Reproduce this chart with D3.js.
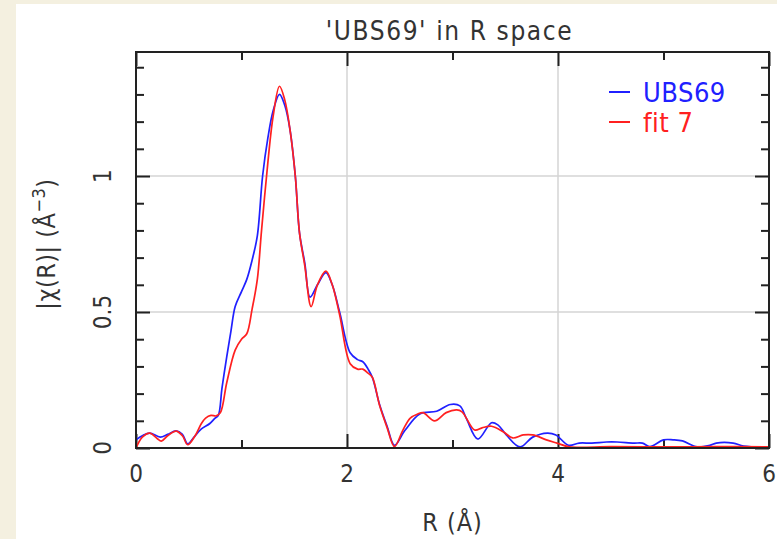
<!DOCTYPE html>
<html><head><meta charset="utf-8">
<script src="https://cdn.jsdelivr.net/npm/d3@7"></script>
<style>
html,body{margin:0;padding:0;background:#f4f0e0;}
svg{display:block;}
text{font-family:"DejaVu Sans Condensed","DejaVu Sans",sans-serif;fill:#333;}
</style></head>
<body>
<svg id="chart" width="777" height="539"></svg>
<script>
const title = "'UBS69' in R space";
const xLabel = "R (Å)";
const seriesNames = ["UBS69", "fit 7"];
const seriesColors = ["#2020ff", "#ff2020"];
const xMajorTicks = [0, 2, 4, 6];
const xMinorTicks = [1, 3, 5];
const yMajorTicks = [0, 0.5, 1];
const yMinorTicks = [0.1,0.2,0.3,0.4,0.6,0.7,0.8,0.9,1.1,1.2,1.3,1.4];
const yTickLabels = ["0", "0.5", "1"];

const dataR = [0.00,0.06,0.13,0.23,0.30,0.38,0.44,0.49,0.55,0.62,0.70,0.75,0.78,0.815,0.86,0.90,0.94,1.00,1.05,1.10,1.15,1.20,1.25,1.30,1.36,1.41,1.46,1.51,1.55,1.60,1.65,1.72,1.80,1.86,1.93,2.03,2.10,2.15,2.20,2.24,2.31,2.38,2.45,2.55,2.69,2.85,2.98,3.07,3.13,3.24,3.37,3.43,3.51,3.64,3.76,3.90,3.98,4.10,4.20,4.32,4.46,4.56,4.72,4.80,4.87,5.00,5.09,5.18,5.32,5.44,5.50,5.66,5.76,6.00];
const dataChi = [0.03,0.045,0.055,0.04,0.05,0.063,0.05,0.015,0.04,0.07,0.09,0.11,0.12,0.22,0.335,0.43,0.52,0.575,0.62,0.69,0.78,1.0,1.14,1.24,1.30,1.26,1.17,1.0,0.79,0.68,0.555,0.6,0.645,0.6,0.5,0.35,0.325,0.317,0.29,0.26,0.158,0.08,0.01,0.065,0.125,0.135,0.16,0.155,0.11,0.033,0.093,0.085,0.048,0.004,0.04,0.055,0.048,0.01,0.018,0.018,0.022,0.022,0.018,0.018,0.005,0.03,0.03,0.026,0.004,0.01,0.018,0.018,0.007,0.004];

const fitR = [0.00,0.06,0.13,0.20,0.24,0.30,0.38,0.44,0.49,0.56,0.62,0.66,0.71,0.76,0.80,0.86,0.94,1.00,1.05,1.10,1.15,1.19,1.25,1.30,1.36,1.41,1.46,1.51,1.55,1.60,1.66,1.72,1.80,1.86,1.93,2.03,2.10,2.15,2.20,2.24,2.31,2.38,2.45,2.53,2.60,2.67,2.72,2.83,2.94,3.04,3.09,3.21,3.28,3.37,3.48,3.57,3.67,3.76,3.89,3.99,4.11,4.50,5.00,5.50,6.00];
const fitChi = [0.0,0.04,0.055,0.035,0.025,0.045,0.062,0.045,0.012,0.045,0.09,0.11,0.12,0.118,0.13,0.24,0.36,0.40,0.42,0.51,0.62,0.80,1.05,1.22,1.33,1.28,1.17,1.0,0.79,0.67,0.52,0.6,0.65,0.6,0.49,0.31,0.29,0.29,0.275,0.26,0.155,0.075,0.005,0.066,0.11,0.125,0.13,0.10,0.13,0.14,0.133,0.066,0.074,0.08,0.06,0.037,0.048,0.048,0.03,0.018,0.004,0.005,0.004,0.005,0.004];

const svg = d3.select("#chart");
svg.append("rect").attr("x",16).attr("y",4).attr("width",777-16).attr("height",539-4).attr("fill","#ffffff");

const L = 136, R = 769, T = 52, B = 448;
const x = d3.scaleLinear().domain([0, 6]).range([L, R]);
const y = d3.scaleLinear().domain([0, 1.456]).range([B, T]);

// grid
const grid = svg.append("g");
grid.selectAll("line.gx").data(xMajorTicks.filter(d => d > 0 && d < 6)).enter().append("line")
  .attr("x1", d => x(d)).attr("x2", d => x(d)).attr("y1", T).attr("y2", B)
  .attr("stroke", "#d4d4d4").attr("stroke-width", 1.5);
grid.selectAll("line.gy").data(yMajorTicks.filter(d => d > 0)).enter().append("line")
  .attr("x1", L).attr("x2", R).attr("y1", d => y(d)).attr("y2", d => y(d))
  .attr("stroke", "#d4d4d4").attr("stroke-width", 1.5);

// axes ticks (inside)
function tickAxis(axisFn, scale, vals, size, transform) {
  const g = svg.append("g").attr("transform", transform)
    .call(axisFn(scale).tickValues(vals).tickSize(size).tickFormat(""));
  g.select(".domain").remove();
  g.selectAll(".tick line").attr("stroke", "#222").attr("stroke-width", 2);
  return g;
}
tickAxis(d3.axisTop, x, xMajorTicks, 14, `translate(0,${B})`);
tickAxis(d3.axisTop, x, xMinorTicks, 8, `translate(0,${B})`);
tickAxis(d3.axisBottom, x, xMajorTicks, 14, `translate(0,${T})`);
tickAxis(d3.axisBottom, x, xMinorTicks, 8, `translate(0,${T})`);
tickAxis(d3.axisRight, y, yMajorTicks, 14, `translate(${L},0)`);
tickAxis(d3.axisRight, y, yMinorTicks, 8, `translate(${L},0)`);
tickAxis(d3.axisLeft, y, yMajorTicks, 14, `translate(${R},0)`);
tickAxis(d3.axisLeft, y, yMinorTicks, 8, `translate(${R},0)`);

// lines
const line = d3.line().x(d => x(d[0])).y(d => y(d[1])).curve(d3.curveCatmullRom.alpha(0.5));
const dataSeries = [d3.zip(dataR, dataChi), d3.zip(fitR, fitChi)];
dataSeries.forEach((s, i) => {
  svg.append("path").datum(s).attr("d", line).attr("fill", "none")
    .attr("stroke", seriesColors[i]).attr("stroke-width", 1.7);
});

// frame
svg.append("rect").attr("x", L).attr("y", T).attr("width", R - L).attr("height", B - T)
  .attr("fill", "none").attr("stroke", "#222").attr("stroke-width", 2);

// x tick labels
svg.selectAll("text.xt").data(xMajorTicks).enter().append("text")
  .attr("x", d => x(d)).attr("y", 482).attr("text-anchor", "middle")
  .attr("font-size", 24).text(d => d);
// y tick labels (rotated)
svg.selectAll("text.yt").data(yMajorTicks).enter().append("text")
  .attr("transform", d => `translate(111,${y(d)}) rotate(-90)`)
  .attr("text-anchor", "middle").attr("font-size", 24).text((d, i) => yTickLabels[i]);

// title
svg.append("text").attr("x", (L + R) / 2 - 3).attr("y", 40).attr("text-anchor", "middle")
  .attr("font-size", 26).attr("letter-spacing", 1.6).text(title);
// x label
svg.append("text").attr("x", (L + R) / 2).attr("y", 531).attr("text-anchor", "middle")
  .attr("font-size", 25).attr("letter-spacing", 1).text(xLabel);
// y label
const yl = svg.append("text").attr("transform", `translate(55,${(T + B) / 2 - 6}) rotate(-90)`)
  .attr("text-anchor", "middle").attr("font-size", 25).attr("letter-spacing", 0.5);
yl.append("tspan").text("|χ(R)| (Å");
yl.append("tspan").attr("dy", -10).attr("font-size", 18).text("−3");
yl.append("tspan").attr("dy", 10).text(")");

// legend
const leg = svg.append("g");
seriesNames.forEach((n, i) => {
  const yy = 92 + i * 30;
  leg.append("line").attr("x1", 609).attr("x2", 630).attr("y1", yy).attr("y2", yy)
    .attr("stroke", seriesColors[i]).attr("stroke-width", 2);
  leg.append("text").attr("x", 643).attr("y", yy + 10).attr("font-size", 27).attr("letter-spacing", 0.5)
    .style("fill", seriesColors[i]).text(n);
});
</script>
</body></html>
